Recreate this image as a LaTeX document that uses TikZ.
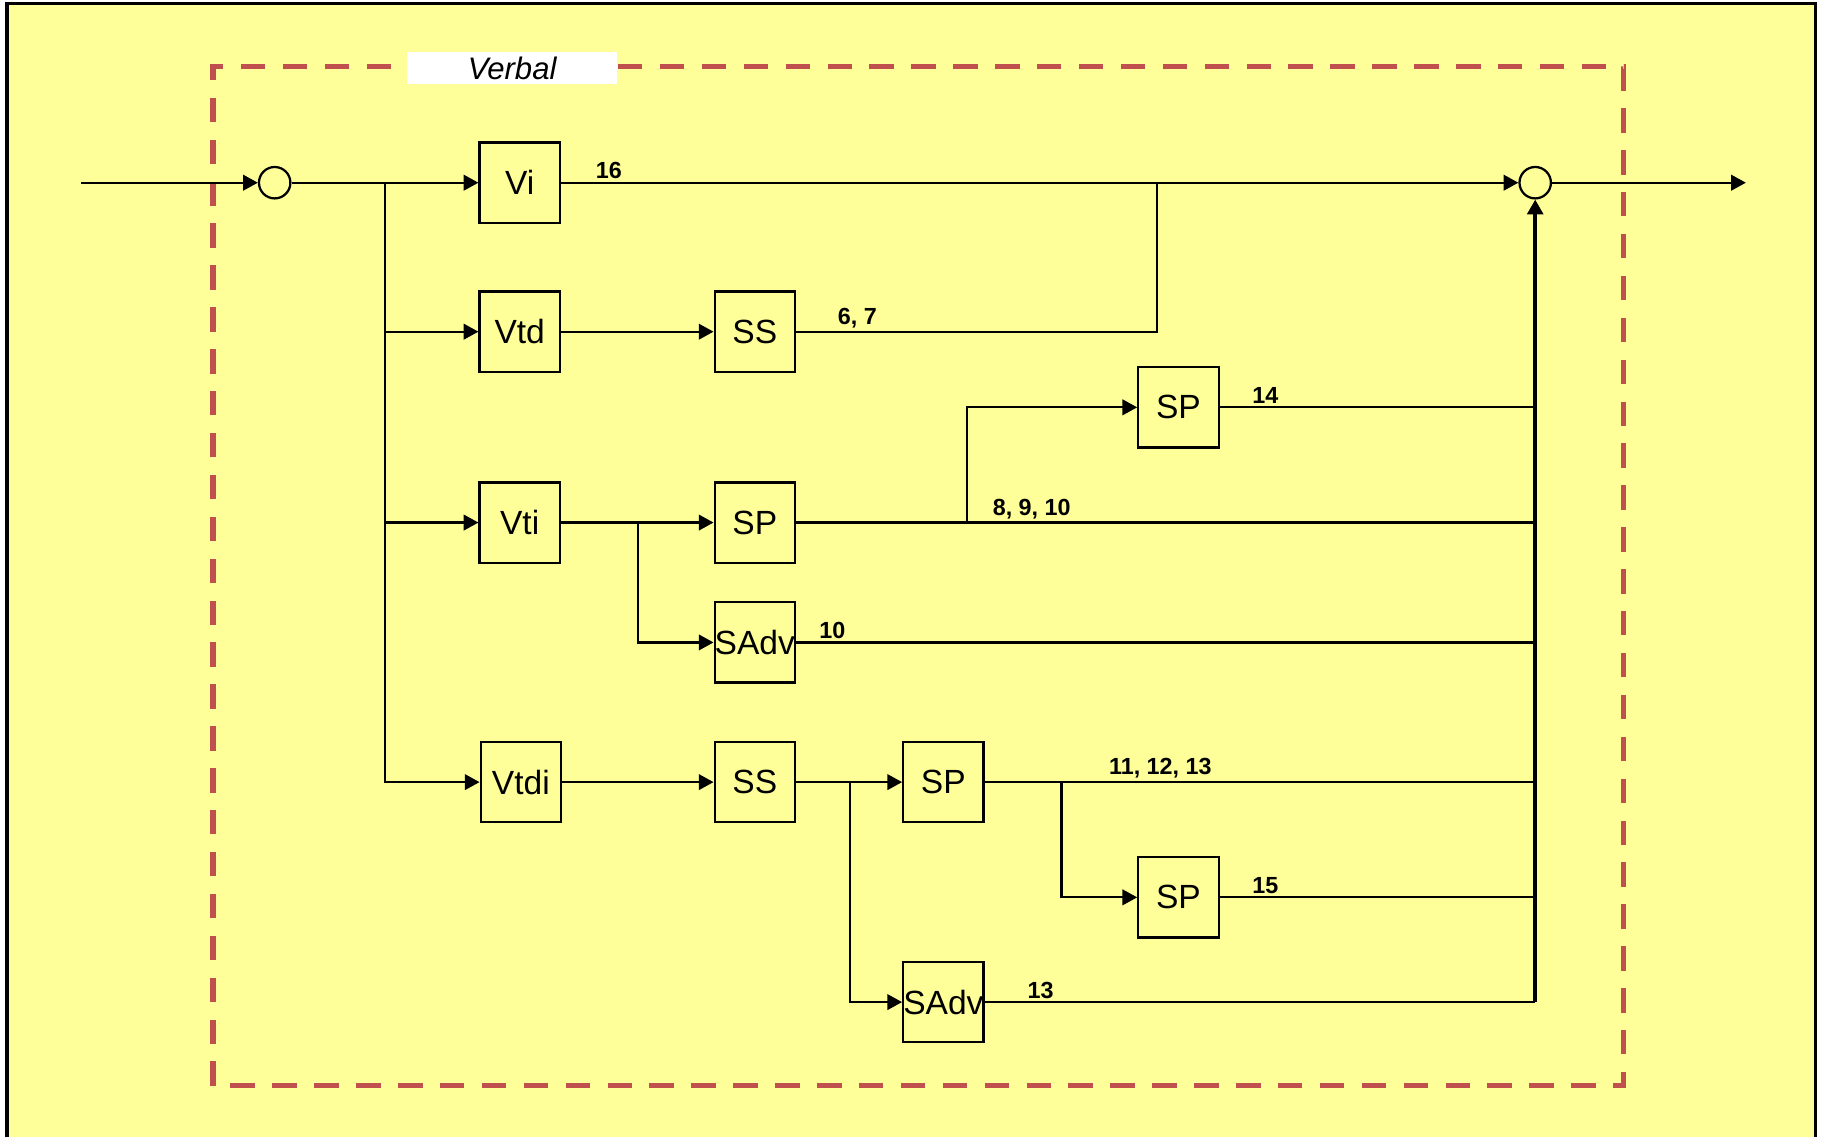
\documentclass[tikz,border=0pt]{standalone}
\usepackage{xcolor}
\usepackage{fontspec}
\setmainfont{Liberation Sans}
\usepackage{tikz}
\usetikzlibrary{arrows.meta,positioning,calc}
\definecolor{bgyellow}{RGB}{255,255,153}
\definecolor{framered}{RGB}{192,80,77}

\begin{document}
\begin{tikzpicture}[>=Stealth,
  line width=0.55pt,
  arr/.style={-{Triangle[length=3.6pt,width=3.8pt]}},
  blk/.style={draw, fill=bgyellow, minimum width=0.69cm, minimum height=0.69cm,
    inner sep=0pt, font=\fontsize{8.2}{9}\selectfont},
  junc/.style={draw, circle, fill=bgyellow, minimum size=0.27cm, inner sep=0pt},
  lbl/.style={font=\fontsize{5.7}{6.5}\selectfont\bfseries, anchor=south west,
    inner xsep=0pt, inner ysep=0.6pt}]
% ---- background and frame ----
\useasboundingbox (0,0) rectangle (15.68,9.77);
\fill[white] (0,0) rectangle (15.68,9.77);
\fill[bgyellow] (0.06,0) rectangle (15.60,9.74);
\draw[line width=0.8pt] (0.06,0) -- (0.06,9.74) -- (15.60,9.74) -- (15.60,0);
\draw[framered, line width=1.25pt, dash pattern=on 2.1mm off 1.5mm]
  (1.83,0.44) rectangle (13.95,9.20);
\node[fill=white, minimum width=1.80cm, minimum height=0.27cm, inner sep=0pt,
  font=\fontsize{7.6}{8}\selectfont\itshape] (verbal) at (4.40,9.185) {Verbal};

% ---- junctions ----
\coordinate (inp) at (0.70,8.20);
\node[junc] (cin) at (2.36,8.20) {};
\node[junc] (cout) at (13.19,8.20) {};
\coordinate (out) at (15.00,8.20);

% ---- blocks ----
\node[blk] (vi)    at (4.465,8.20) {Vi};
\node[blk] (vtd)   at (4.465,6.92) {Vtd};
\node[blk] (vti)   at (4.465,5.28) {Vti};
\node[blk] (vtdi)  at (4.475,3.05) {Vtdi};
\node[blk] (ssa)   at (6.485,6.92) {SS};
\node[blk] (spa)   at (6.485,5.28) {SP};
\node[blk] (sadva) at (6.485,4.25) {SAdv};
\node[blk] (ssb)   at (6.485,3.05) {SS};
\node[blk] (spb)   at (8.105,3.05) {SP};
\node[blk] (sadvb) at (8.105,1.16) {SAdv};
\node[blk] (spc)   at (10.125,6.27) {SP};
\node[blk] (spd)   at (10.125,2.06) {SP};

% ---- branch points ----
\coordinate (jl) at (3.31,8.20);
\coordinate (jvt) at (9.94,8.20);
\coordinate (jti) at (5.48,5.28);
\coordinate (jsp) at (8.31,5.28);
\coordinate (jss) at (7.30,3.05);
\coordinate (jpp) at (9.12,3.05);
\coordinate (rb) at (13.19,1.16);

% ---- connectors ----
\draw[arr] (inp) -- (cin);
\draw[arr] (cin) -- (vi);
\draw[arr] (jl) |- (vtd);
\draw[arr] (jl) |- (vti);
\draw[arr] (jl) |- (vtdi);
\draw[arr] (vi) -- (cout);
\draw[arr] (vtd) -- (ssa);
\draw (ssa) -| (jvt);
\draw[arr] (vti) -- (spa);
\draw[arr] (jti) |- (sadva);
\draw (spa) -- (spa -| rb);
\draw[arr] (jsp) |- (spc);
\draw (spc) -- (spc -| rb);
\draw (sadva) -- (sadva -| rb);
\draw[arr] (vtdi) -- (ssb);
\draw[arr] (ssb) -- (spb);
\draw[arr] (jss) |- (sadvb);
\draw (spb) -- (spb -| rb);
\draw[arr] (jpp) |- (spd);
\draw (spd) -- (spd -| rb);
\draw (sadvb) -- (rb);
\draw[arr, line width=0.9pt] (rb) -- (cout);
\draw[arr] (cout) -- (out);

% ---- path labels ----
\node[lbl] (l16)  at ([xshift=0.29cm]vi.east) {16};
\node[lbl] (l67)  at ([xshift=0.35cm]ssa.east) {6, 7};
\node[lbl] (l14)  at ([xshift=0.27cm]spc.east) {14};
\node[lbl] (l810) at ([xshift=0.21cm]jsp) {8, 9, 10};
\node[lbl] (l10)  at ([xshift=0.19cm]sadva.east) {10};
\node[lbl] (l1113) at ([xshift=1.06cm]spb.east) {11, 12, 13};
\node[lbl] (l15)  at ([xshift=0.27cm]spd.east) {15};
\node[lbl] (l13)  at ([xshift=0.36cm]sadvb.east) {13};
\end{tikzpicture}
\end{document}
